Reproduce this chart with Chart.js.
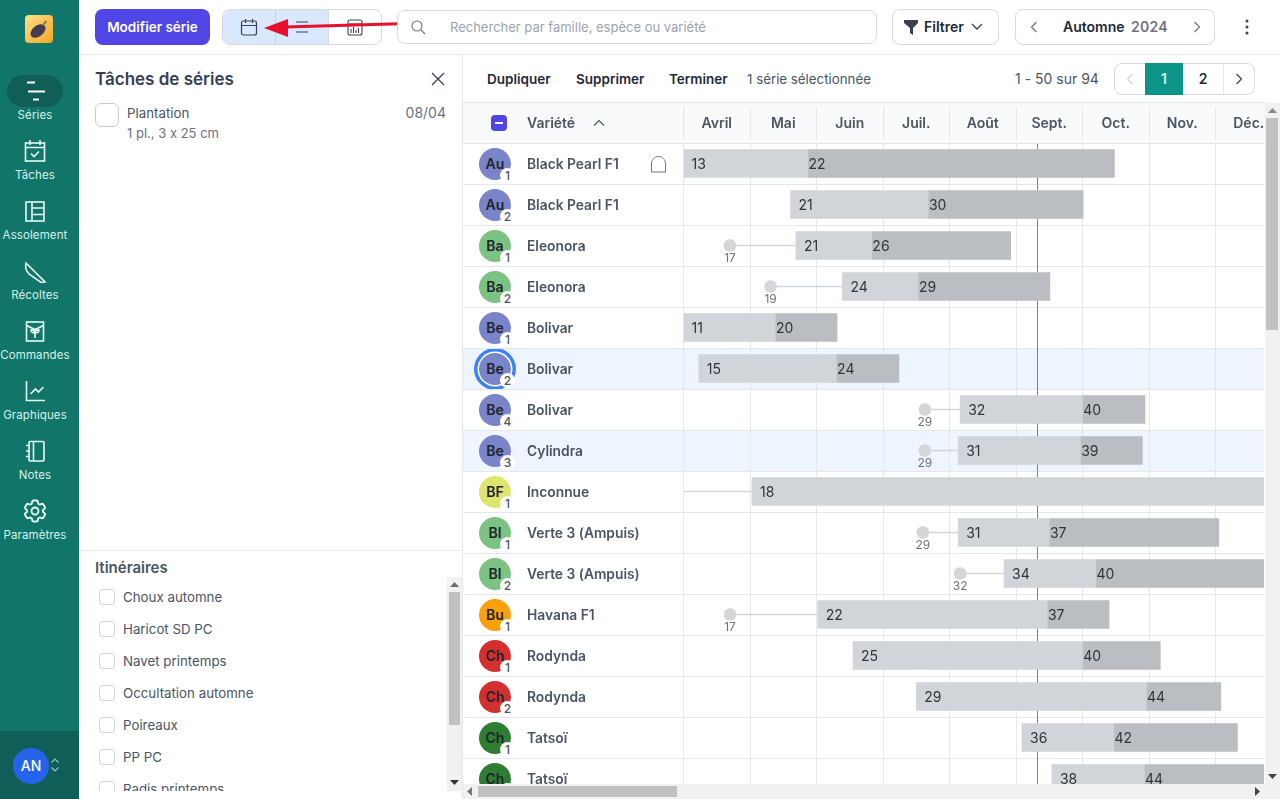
<!DOCTYPE html>
<html lang="fr">
<head>
<meta charset="utf-8">
<title>Séries</title>
<script src="https://cdn.jsdelivr.net/npm/chart.js@4"></script>
<style>
* { box-sizing: border-box; }
html, body { margin: 0; padding: 0; width: 1280px; height: 799px; overflow: hidden; background: #fff; font-family: Inter, "Noto Sans", sans-serif; color: #1f2937; -webkit-font-smoothing: antialiased; font-variant-ligatures: none; font-feature-settings: "calt" 0; }
.abs { position: absolute; }
.txt { position: absolute; white-space: nowrap; line-height: 20px; font-size: 13.3px; }
.b { font-weight: 600; font-size: 13.5px; }
#side { position: absolute; left: 0; top: 0; width: 79px; height: 799px; background: #11756a; }
#sideBottom { position: absolute; left: 0; top: 731px; width: 79px; height: 68px; background: #0f5f58; }
#pill { position: absolute; left: 7px; top: 75px; width: 56px; height: 32px; border-radius: 16px; background: #0f5f58; }
.navl { position: absolute; left: 0; width: 70px; text-align: center; font-size: 11.5px; line-height: 14px; color: #d5f3ea; white-space: nowrap; letter-spacing: .1px; }
.navi { position: absolute; left: 21px; width: 28px; height: 28px; fill: none; stroke: #e6faf4; stroke-width: 1.6; }
.box { position: absolute; background: #fff; border: 1px solid #d6d9de; border-radius: 8px; }
.cb { position: absolute; width: 16px; height: 16px; border: 1px solid #d1d5db; border-radius: 4px; background: #fff; }
#thead { position: absolute; left: 463px; top: 102px; width: 802px; height: 41px; background: #f9fafb; border-top: 1px solid #e5e7eb; }
#body { position: absolute; left: 463px; top: 102px; width: 801px; height: 682px; overflow: hidden; }
#rowbg { position: absolute; left: 0; top: 0; width: 801px; height: 697px; }
.hl { position: absolute; left: 0; width: 801px; height: 41px; background: #eef5fe; }
.ava { position: absolute; left: 16px; width: 32px; height: 32px; border-radius: 50%; text-align: center; line-height: 32px; font-size: 14px; font-weight: 600; color: #20242c; }
.sel { box-shadow: 0 0 0 1.5px #fff, 0 0 0 5px #3b82f6; }
.bad { position: absolute; left: 21px; top: 20px; width: 15px; height: 15px; border-radius: 50%; background: #fff; text-align: center; font-size: 12px; line-height: 16px; font-weight: 500; color: #4b5563; }
#chart { position: absolute; left: 0; top: 0; }
#gap { position: absolute; left: 220px; top: 39px; width: 581px; height: 2px; background: #f9fafb; }
.sb { position: absolute; background: #f1f1f1; }
.th { position: absolute; background: #c1c1c1; }
</style>
</head>
<body>
<div id="side"></div><div id="sideBottom"></div><div id="pill"></div>
<svg class="abs" style="left:25px;top:15px" width="28" height="28" viewBox="0 0 28 28">
  <defs><linearGradient id="lg" x1="0" y1="0" x2="1" y2="1"><stop offset="0" stop-color="#fbe08a"/><stop offset="1" stop-color="#f5a623"/></linearGradient></defs>
  <rect width="28" height="28" rx="4" fill="url(#lg)"/>
  <ellipse cx="13" cy="16" rx="8.500" ry="5.500" transform="rotate(-38 13 16)" fill="#4a3a4f"/>
  <path d="M18.500 9.500l3-3.500" stroke="#7a8a2a" stroke-width="2"/>
</svg>
<svg class="abs" style="left:21px;top:78px" width="28" height="28" viewBox="0 0 28 28" stroke="#fff" stroke-width="1.8"><path d="M6 4.500h8M7 13.500h17M12 21.500h6"/></svg>
<svg class="navi" style="top:137px" viewBox="0 0 28 28"><rect x="4.500" y="6" width="19" height="18"/><path d="M4.500 10.500h19M9 3v5M19 3v5M10 16.500l3 3 5-5"/></svg>
<svg class="navi" style="top:197px" viewBox="0 0 28 28"><rect x="5" y="5" width="18" height="19"/><path d="M11 5v19M11 11h12M11 17.500h12"/></svg>
<svg class="navi" style="top:257px" viewBox="0 0 28 28"><path d="M5 6l19 19-4 .5L8 17c-3-3-4-7-3-11z"/></svg>
<svg class="navi" style="top:317px" viewBox="0 0 28 28"><rect x="5.500" y="5" width="17" height="19"/><path d="M5.500 8.500l8.500 4 8.500-4M14 21v-6M14 16c-3 0-4-1-4-3 3 0 4 1 4 3zM14 16c3 0 4-1 4-3-3 0-4 1-4 3z"/></svg>
<svg class="navi" style="top:377px" viewBox="0 0 28 28"><path d="M5.500 4v19.500H24M9.500 17l5-5 3 3 5-5"/></svg>
<svg class="navi" style="top:437px" viewBox="0 0 28 28"><rect x="8" y="4.500" width="15" height="19.500" rx="1"/><path d="M12.500 4.500V24M5 8.500h4M5 14h4M5 19.500h4"/></svg>
<svg class="navi" style="top:497px" viewBox="0 0 24 24" stroke-width="1.4"><path d="M9.594 3.94c.09-.542.56-.94 1.11-.94h2.593c.55 0 1.02.398 1.11.94l.213 1.281c.063.374.313.686.645.87.074.04.147.083.22.127.325.196.72.257 1.075.124l1.217-.456a1.125 1.125 0 011.37.49l1.296 2.247a1.125 1.125 0 01-.26 1.431l-1.003.827c-.293.241-.438.613-.43.992a6.759 6.759 0 010 .255c-.008.378.137.75.43.991l1.004.827c.424.35.534.955.26 1.43l-1.298 2.247a1.125 1.125 0 01-1.369.491l-1.217-.456c-.355-.133-.75-.072-1.076.124a6.57 6.57 0 01-.22.128c-.331.183-.581.495-.644.869l-.213 1.28c-.09.543-.56.941-1.11.941h-2.594c-.55 0-1.02-.398-1.11-.94l-.213-1.281c-.062-.374-.312-.686-.644-.87a6.52 6.52 0 01-.22-.127c-.325-.196-.72-.257-1.076-.124l-1.217.456a1.125 1.125 0 01-1.369-.49l-1.297-2.247a1.125 1.125 0 01.26-1.431l1.004-.827c.292-.24.437-.613.43-.992a6.932 6.932 0 010-.255c.007-.378-.138-.75-.43-.99l-1.004-.828a1.125 1.125 0 01-.26-1.43l1.297-2.247a1.125 1.125 0 011.37-.491l1.216.456c.356.133.751.072 1.076-.124.072-.044.146-.087.22-.128.332-.183.582-.495.644-.869l.214-1.281z"/><circle cx="12" cy="12" r="3"/></svg>
<div class="navl" style="top:108px">Séries</div>
<div class="navl" style="top:168px">Tâches</div>
<div class="navl" style="top:228px">Assolement</div>
<div class="navl" style="top:288px">Récoltes</div>
<div class="navl" style="top:348px">Commandes</div>
<div class="navl" style="top:408px">Graphiques</div>
<div class="navl" style="top:468px">Notes</div>
<div class="navl" style="top:528px">Paramètres</div>
<div class="abs" style="left:13px;top:748px;width:36px;height:36px;border-radius:50%;background:#2563eb;color:#fff;text-align:center;line-height:36px;font-size:14px;font-weight:500">AN</div>
<svg class="abs" style="left:49px;top:757px" width="12" height="16" viewBox="0 0 12 16" fill="none" stroke="#8fc4bb" stroke-width="1.2"><path d="M2.500 5.500L6 2l3.500 3.500M2.500 10.500L6 14l3.500-3.500"/></svg>

<!-- top bar -->
<div class="abs" style="left:79px;top:54px;width:1201px;height:1px;background:#e5e7eb"></div>
<div class="abs b" style="left:95px;top:9px;width:115px;height:36px;border-radius:8px;background:#4f46e5;color:#fff;line-height:36px;text-align:center">Modifier série</div>
<div class="box" style="left:222px;top:9px;width:160px;height:36px"></div>
<div class="abs" style="left:223px;top:10px;width:105px;height:34px;background:#d9e8fc;border-radius:7px 0 0 7px"></div>
<div class="abs" style="left:275px;top:10px;width:1px;height:34px;background:#c5d2e3"></div>
<div class="abs" style="left:328px;top:10px;width:1px;height:34px;background:#d6d9de"></div>
<svg class="abs" style="left:240px;top:18px" width="18" height="19" viewBox="0 0 18 19" fill="none" stroke="#3b4350" stroke-width="1.2"><rect x="1.500" y="3" width="15" height="14" rx="2"/><path d="M1.500 7.500h15M5.500 1v4M12.500 1v4"/></svg>
<svg class="abs" style="left:294px;top:20px" width="16" height="14" viewBox="0 0 16 14" fill="none" stroke="#3b4350" stroke-width="1.1"><path d="M2 2h12M0 7h16M2 12h12"/></svg>
<svg class="abs" style="left:347px;top:19px" width="16" height="17" viewBox="0 0 16 17" fill="none" stroke="#3b4350" stroke-width="1.1"><rect x="1" y="1" width="14" height="15" rx="2"/><path d="M1 5h14M4 14v-4M6.500 14v-6M9 14v-3M11.500 14v-5"/></svg>
<svg class="abs" style="left:255px;top:12px" width="195" height="26" viewBox="0 0 195 26"><path d="M30 15L188 10.500" stroke="#e8112d" stroke-width="3" fill="none"/><path d="M9 16L33 7l0 18z" fill="#e8112d"/></svg>
<div class="box" style="left:397px;top:10px;width:480px;height:34px"></div>
<svg class="abs" style="left:410px;top:19px" width="16" height="16" viewBox="0 0 16 16" fill="none" stroke="#6b7280" stroke-width="1.1"><circle cx="7" cy="7" r="5"/><path d="M11 11l4 4"/></svg>
<div class="txt" style="left:450px;top:17px;color:#9ca3af;font-size:13px">Rechercher par famille, espèce ou variété</div>
<div class="box" style="left:892px;top:9px;width:107px;height:36px"></div>
<svg class="abs" style="left:904px;top:20px" width="15" height="15" viewBox="0 0 15 15" fill="#374151"><path d="M0 0h14v3L9 8v7L6 13V8L0 3z"/></svg>
<div class="txt b" style="left:924px;top:17px;font-size:14px">Filtrer</div>
<svg class="abs" style="left:971px;top:23px" width="12" height="8" viewBox="0 0 12 8" fill="none" stroke="#374151" stroke-width="1.3"><path d="M1 1l5 5 5-5"/></svg>
<div class="box" style="left:1015px;top:9px;width:200px;height:36px"></div>
<svg class="abs" style="left:1030px;top:21px" width="8" height="12" viewBox="0 0 8 12" fill="none" stroke="#6b7280" stroke-width="1.2"><path d="M6.500 1L1.500 6l5 5"/></svg>
<svg class="abs" style="left:1193px;top:21px" width="8" height="12" viewBox="0 0 8 12" fill="none" stroke="#6b7280" stroke-width="1.2"><path d="M1.500 1l5 5-5 5"/></svg>
<div class="txt b" style="left:1063px;top:17px;font-size:14px">Automne</div>
<div class="txt b" style="left:1131px;top:17px;color:#6b7280;letter-spacing:.3px;font-size:14px">2024</div>
<svg class="abs" style="left:1245px;top:19px" width="4" height="16" viewBox="0 0 4 16" fill="#374151"><circle cx="2" cy="2" r="1.500"/><circle cx="2" cy="8" r="1.500"/><circle cx="2" cy="14" r="1.500"/></svg>

<!-- left panel -->
<div class="abs" style="left:462px;top:55px;width:1px;height:744px;background:#e5e7eb"></div>
<div class="txt b" style="left:95px;top:69px;font-size:17px;color:#374151">Tâches de séries</div>
<svg class="abs" style="left:431px;top:72px" width="14" height="14" viewBox="0 0 14 14" fill="none" stroke="#374151" stroke-width="1.3"><path d="M1 1l12 12M13 1L1 13"/></svg>
<div class="abs" style="left:95px;top:103px;width:24px;height:24px;border:1px solid #c8ccd2;border-radius:6px"></div>
<div class="txt" style="left:127px;top:103px;color:#4b5563">Plantation</div>
<div class="txt" style="left:127px;top:123px;font-size:13px;color:#6b7280">1 pl., 3 x 25 cm</div>
<div class="txt" style="right:834px;top:103px;color:#6b7280;font-size:14px">08/04</div>
<div class="abs" style="left:79px;top:550px;width:383px;height:1px;background:#e5e7eb"></div>
<div class="txt b" style="left:95px;top:558px;font-size:15px;color:#4b5563">Itinéraires</div>
<div id="routes" class="abs" style="left:79px;top:577px;width:368px;height:214px;overflow:hidden"></div>
<div class="sb" style="left:447px;top:577px;width:15px;height:214px"></div>
<div class="th" style="left:449px;top:592px;width:11px;height:133px"></div>
<svg class="abs" style="left:450px;top:582px" width="9" height="5"><path d="M0 5L4.500 0 9 5z" fill="#6b6b6b"/></svg>
<svg class="abs" style="left:450px;top:780px" width="9" height="5"><path d="M0 0L4.500 5 9 0z" fill="#333"/></svg>

<!-- table toolbar -->
<div class="txt b" style="left:487px;top:69px">Dupliquer</div>
<div class="txt b" style="left:576px;top:69px">Supprimer</div>
<div class="txt b" style="left:669px;top:69px">Terminer</div>
<div class="txt" style="left:747px;top:69px;color:#4b5563">1 série sélectionnée</div>
<div class="txt" style="left:1015px;top:69px;color:#4b5563;font-size:14px">1 - 50 sur 94</div>
<div class="box" style="left:1114px;top:63px;width:141px;height:32px"></div>
<div class="abs" style="left:1145px;top:63px;width:38px;height:32px;background:#0d9488;color:#d5f3ea;text-align:center;line-height:32px;font-size:14px;font-weight:600">1</div>
<div class="abs" style="left:1183px;top:64px;width:40px;height:30px;text-align:center;line-height:30px;font-size:14px;font-weight:600">2</div>
<div class="abs" style="left:1223px;top:64px;width:1px;height:30px;background:#e5e7eb"></div>
<svg class="abs" style="left:1126px;top:73px" width="8" height="12" viewBox="0 0 8 12" fill="none" stroke="#d1d5db" stroke-width="1.2"><path d="M6.500 1L1.500 6l5 5"/></svg>
<svg class="abs" style="left:1235px;top:73px" width="8" height="12" viewBox="0 0 8 12" fill="none" stroke="#374151" stroke-width="1.2"><path d="M1.500 1l5 5-5 5"/></svg>

<!-- table -->
<div id="thead"></div>
<div id="body">
  <div id="rowbg"></div>
  <canvas id="chart" width="819" height="697" style="width:819px;height:697px"></canvas>
  <div id="gap"></div>
</div>
<div class="abs" style="left:491px;top:115px;width:16px;height:16px;border-radius:4px;background:#4f46e5"></div>
<div class="abs" style="left:495px;top:122px;width:8px;height:2px;background:#fff"></div>
<div class="txt b" style="left:527px;top:113px;color:#4b5563;font-size:14px">Variété</div>
<svg class="abs" style="left:593px;top:119px" width="12" height="8" viewBox="0 0 12 8" fill="none" stroke="#4b5563" stroke-width="1.1"><path d="M1 6.500l5-5 5 5"/></svg>
<svg class="abs" style="left:650px;top:155px" width="17" height="18" viewBox="0 0 17 18" fill="none" stroke="#6b7280" stroke-width="1"><path d="M1.500 17V9c0-4.500 3-7.500 7-7.500s7 3 7 7.500v8z"/></svg>

<!-- scrollbars -->
<div class="sb" style="left:1265px;top:103px;width:15px;height:681px"></div>
<div class="th" style="left:1266px;top:118px;width:12px;height:212px"></div>
<svg class="abs" style="left:1268px;top:108px" width="9" height="5"><path d="M0 5L4.500 0 9 5z" fill="#8a8a8a"/></svg>
<svg class="abs" style="left:1268px;top:774px" width="9" height="5"><path d="M0 0L4.500 5 9 0z" fill="#444"/></svg>
<div class="sb" style="left:463px;top:784px;width:817px;height:15px"></div>
<div class="th" style="left:478px;top:786px;width:199px;height:11px"></div>
<svg class="abs" style="left:467px;top:787px" width="5" height="9"><path d="M5 0L0 4.500 5 9z" fill="#777"/></svg>
<svg class="abs" style="left:1255px;top:787px" width="5" height="9"><path d="M0 0L5 4.500 0 9z" fill="#444"/></svg>

<script>
// Gantt values are in months since 1 April (0 = Avril, 1 = Mai, ...)
const months = ['Avril', 'Mai', 'Juin', 'Juil.', 'Août', 'Sept.', 'Oct.', 'Nov.', 'Déc.'];
const varieties = ['Black Pearl F1', 'Black Pearl F1', 'Eleonora', 'Eleonora', 'Bolivar', 'Bolivar', 'Bolivar', 'Cylindra', 'Inconnue', 'Verte 3 (Ampuis)', 'Verte 3 (Ampuis)', 'Havana F1', 'Rodynda', 'Rodynda', 'Tatsoï', 'Tatsoï'];
const familyCodes = ['Au', 'Au', 'Ba', 'Ba', 'Be', 'Be', 'Be', 'Be', 'BF', 'Bl', 'Bl', 'Bu', 'Ch', 'Ch', 'Ch', 'Ch'];
const familyColors = ['#7a84c8', '#7a84c8', '#7cc283', '#7cc283', '#7a84c8', '#7a84c8', '#7a84c8', '#7a84c8', '#dde56f', '#7cc283', '#7cc283', '#fb9f0a', '#d32f2f', '#d32f2f', '#2e7d32', '#2e7d32'];
const seriesNumbers = [1, 2, 1, 2, 1, 2, 4, 3, 1, 1, 2, 1, 1, 2, 1, 2];

const plantStart = [0, 1.61, 1.69, 2.39, 0, 0.23, 4.16, 4.13, 1.03, 4.13, 4.82, 2.02, 2.55, 3.50, 5.09, 5.54];
const harvestStart = [1.88, 3.69, 2.84, 3.54, 1.39, 2.31, 6.01, 5.98, 9, 5.51, 6.21, 5.48, 6.01, 6.97, 6.48, 6.94];
const harvestEnd = [6.48, 6.01, 4.92, 5.51, 2.31, 3.24, 6.94, 6.90, null, 8.05, 9, 6.40, 7.17, 8.08, 8.33, 9];
const sowing = [null, null, 0.70, 1.31, null, null, 3.63, 3.63, 0, 3.60, 4.16, 0.70, null, null, null, null];

const plantWeek = [13, 21, 21, 24, 11, 15, 32, 31, 18, 31, 34, 22, 25, 29, 36, 38];
const harvestWeek = [22, 30, 26, 29, 20, 24, 40, 39, null, 37, 40, 37, 40, 44, 42, 44];
const sowingWeek = [null, null, 17, 19, null, null, 29, 29, null, 29, 32, 17, null, null, null, null];

const today = 5.32;
const highlighted = [5, 7];
const routes = ['Choux automne', 'Haricot SD PC', 'Navet printemps', 'Occultation automne', 'Poireaux', 'PP PC', 'Radis printemps'];

// html bits around the chart
const rowbg = document.getElementById('rowbg');
highlighted.forEach(i => {
  const d = document.createElement('div');
  d.className = 'hl';
  d.style.top = (143 - 102 + 41 * i) + 'px';
  rowbg.appendChild(d);
});
familyCodes.forEach((code, i) => {
  const a = document.createElement('div');
  a.className = 'ava' + (i === 5 ? ' sel' : '');
  a.style.top = (46 + 41 * i) + 'px';
  a.style.background = familyColors[i];
  a.textContent = code;
  const b = document.createElement('div');
  b.className = 'bad';
  b.textContent = seriesNumbers[i];
  a.appendChild(b);
  rowbg.appendChild(a);
});
const routesBox = document.getElementById('routes');
routes.forEach((r, i) => {
  const c = document.createElement('div');
  c.className = 'cb';
  c.style.left = '20px';
  c.style.top = (12 + 32 * i) + 'px';
  routesBox.appendChild(c);
  const t = document.createElement('div');
  t.className = 'txt';
  t.style.left = '44px';
  t.style.top = (10 + 32 * i) + 'px';
  t.style.color = '#4b5563';
  t.textContent = r;
  routesBox.appendChild(t);
});

const toRange = (a, b) => a.map((v, i) => (v === null || b[i] === null) ? null : [v, b[i]]);
const dotHalfWidth = 0.09; // 6px in months
const font = 'Inter';

// today's line sits behind the bars, week numbers on top of them
const ganttExtras = {
  id: 'ganttExtras',
  beforeDatasetsDraw(chart) {
    const { ctx, chartArea, scales } = chart;
    const x = Math.round(scales.x.getPixelForValue(today)) + 0.5;
    ctx.save();
    ctx.strokeStyle = '#3f8fe0';
    ctx.lineWidth = 1;
    ctx.beginPath();
    ctx.moveTo(x, chartArea.top + 1);
    ctx.lineTo(x, chartArea.bottom);
    ctx.stroke();
    ctx.restore();
  },
  afterDatasetsDraw(chart) {
    const { ctx, scales } = chart;
    ctx.save();
    ctx.textBaseline = 'middle';
    ctx.textAlign = 'left';
    ctx.fillStyle = '#30343b';
    ctx.font = '14px ' + font;
    varieties.forEach((v, i) => {
      const y = scales.y.getPixelForValue(i) + 1;
      ctx.fillText(plantWeek[i], scales.x.getPixelForValue(plantStart[i]) + 8, y);
      if (harvestWeek[i] !== null) {
        ctx.fillText(harvestWeek[i], scales.x.getPixelForValue(harvestStart[i]), y);
      }
    });
    ctx.fillStyle = '#6b7280';
    ctx.font = '12px ' + font;
    ctx.textAlign = 'center';
    varieties.forEach((v, i) => {
      if (sowingWeek[i] !== null) {
        ctx.fillText(sowingWeek[i], scales.x.getPixelForValue(sowing[i]), scales.y.getPixelForValue(i) + 13);
      }
    });
    ctx.restore();
  }
};

new Chart(document.getElementById('chart'), {
  type: 'bar',
  data: {
    labels: varieties,
    datasets: [
      {
        label: 'Semis',
        data: toRange(sowing, plantStart),
        backgroundColor: '#d1d5db',
        barThickness: 1,
        grouped: false,
        order: 4
      },
      {
        label: 'Plantation',
        data: toRange(plantStart, harvestStart),
        backgroundColor: '#d1d4d9',
        barThickness: 28,
        grouped: false,
        order: 3
      },
      {
        label: 'Récolte',
        data: toRange(harvestStart, harvestEnd),
        backgroundColor: '#babdc2',
        barThickness: 28,
        grouped: false,
        order: 2
      },
      {
        label: 'Pépinière',
        data: sowing.map((v, i) => sowingWeek[i] === null ? null : [v - dotHalfWidth, v + dotHalfWidth]),
        backgroundColor: '#d5d6d9',
        barThickness: 12,
        borderRadius: 6,
        borderSkipped: false,
        grouped: false,
        order: 1
      }
    ]
  },
  plugins: [ganttExtras],
  options: {
    indexAxis: 'y',
    responsive: false,
    animation: false,
    layout: { padding: { left: 64 } },
    plugins: { legend: { display: false }, tooltip: { enabled: false } },
    scales: {
      x: {
        type: 'linear',
        position: 'top',
        min: 0,
        max: 9,
        afterBuildTicks(axis) {
          const t = [];
          for (let i = 0; i <= 18; i++) t.push({ value: i / 2 });
          axis.ticks = t;
        },
        afterFit(axis) {
          axis.height = 41;
          axis.paddingLeft = 0;
          axis.paddingRight = 0;
        },
        border: { display: false },
        grid: {
          color: '#e5e7eb',
          tickColor: '#e5e7eb',
          tickLength: 36,
          lineWidth: c => (c.tick && Number.isInteger(c.tick.value)) ? 1 : 0,
          tickWidth: c => (c.tick && Number.isInteger(c.tick.value)) ? 1 : 0
        },
        ticks: {
          autoSkip: false,
          maxRotation: 0,
          padding: -25,
          color: '#4b5563',
          font: { family: font, size: 14, weight: '600' },
          callback: v => Number.isInteger(v) ? '' : months[Math.floor(v)]
        }
      },
      y: {
        type: 'category',
        afterFit(axis) {
          axis.width = 156.5;
          axis.paddingTop = 0;
          axis.paddingBottom = 0;
        },
        border: { display: false },
        grid: { color: '#e5e7eb', tickColor: '#e5e7eb', tickLength: 221, offset: true },
        ticks: {
          autoSkip: false,
          crossAlign: 'far',
          labelOffset: 1,
          color: '#4b5563',
          font: { family: font, size: 13.8, weight: '600' }
        }
      }
    }
  }
});
</script>
</body>
</html>
